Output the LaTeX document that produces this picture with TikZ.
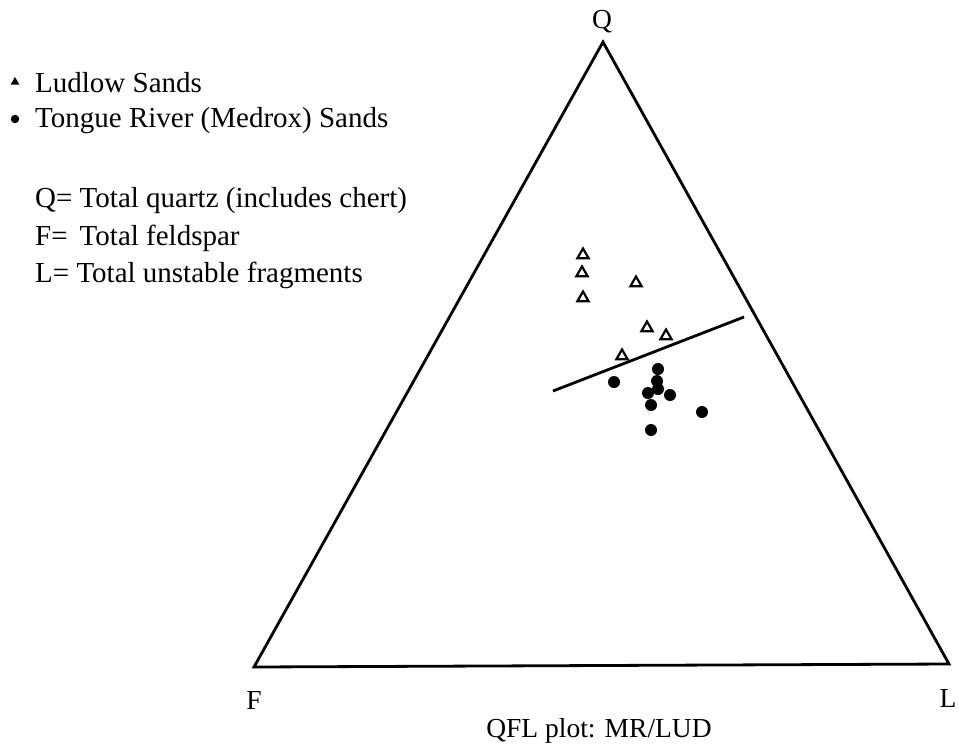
\documentclass[tikz,border=0pt]{standalone}
\usepackage{fontspec}
\setmainfont{Liberation Serif}
\usetikzlibrary{shapes.geometric}

\tikzset{
  ludlow/.style={regular polygon, regular polygon sides=3, draw, line width=2.2pt,
    inner sep=0pt, minimum size=13pt},
  tongue/.style={circle, fill, inner sep=0pt, minimum size=12pt},
  lbl/.style={font=\fontsize{27.5}{33}\selectfont, inner sep=0pt},
  keytxt/.style={font=\fontsize{29}{35}\selectfont, inner sep=0pt, anchor=base west},
}

\begin{document}
\begin{tikzpicture}[x=1pt,y=-1pt]
\useasboundingbox (0,0) rectangle (959,748);

% corners of the QFL triangle
\coordinate (Q) at (603,42);
\coordinate (F) at (254,667);
\coordinate (L) at (949,664);
\draw[line width=2.8pt, line join=miter] (F) -- (Q) -- (L) -- cycle;

\node[lbl] (qlab) at (602,22) {Q};
\node[lbl] (flab) at (254,700) {F};
\node[lbl] (llab) at (948,698) {L};
\node[lbl, anchor=base] (title) at (599,737) {QFL plot: MR/LUD};

% legend
\node[regular polygon, regular polygon sides=3, fill, inner sep=0pt, minimum size=10pt] (keytri) at (15,82) {};
\node[circle, fill, inner sep=0pt, minimum size=8.5pt] (keydot) at (15,119) {};
\node[keytxt] (ludtxt) at (35,92) {Ludlow Sands};
\node[keytxt] (tontxt) at (35,127) {Tongue River (Medrox) Sands};
\node[keytxt] (qtxt) at (35,207) {Q= Total quartz (includes chert)};
\node[keytxt] (ftxt) at (35,245) {F=\, Total feldspar};
\node[keytxt] (ltxt) at (35,282) {L= Total unstable fragments};

% Ludlow samples
\foreach \x/\y [count=\i] in {583/255, 582/273, 583/298, 636/283, 647/328, 666/336, 622/356}
  \node[ludlow] (lud\i) at (\x,\y) {};

% Tongue River samples
\foreach \x/\y [count=\i] in {614/382, 658/369, 657/381, 658/389, 648/393, 670/395, 651/405, 702/412, 651/430}
  \node[tongue] (ton\i) at (\x,\y) {};

% dividing line
\coordinate (d1) at (553,391);
\coordinate (d2) at (744,317);
\draw[line width=2.8pt] (d1) -- (d2);
\end{tikzpicture}
\end{document}
